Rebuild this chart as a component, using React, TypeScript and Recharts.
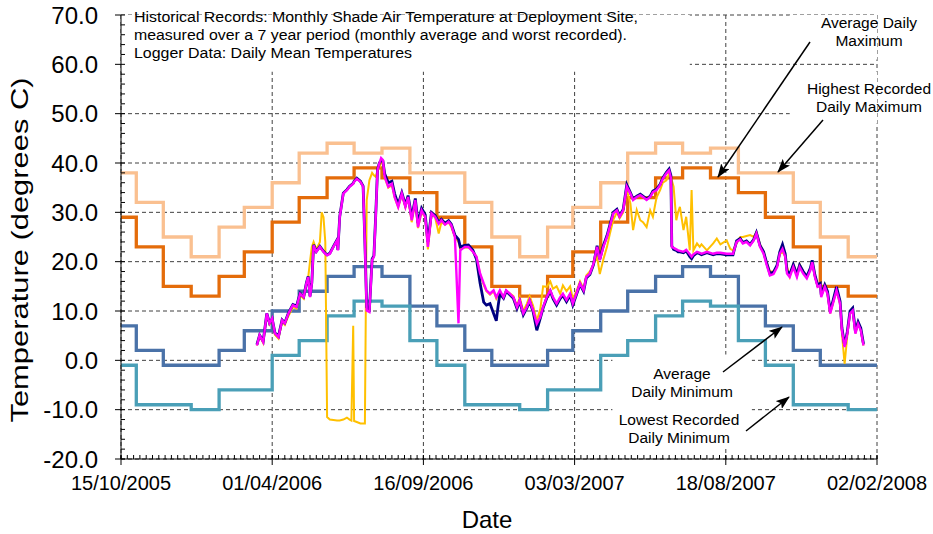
import React from "react";
import { CartesianGrid, Line, LineChart, ReferenceArea, XAxis, YAxis } from "recharts";

const FONT = '"Liberation Sans", Arial, Helvetica, sans-serif';

// x values are days counted from 15/10/2005 (left edge of the axis)
const START = Date.UTC(2005, 9, 15);
function dayOf(dmy: string) {
  const [d, m, y] = dmy.split("/").map(Number);
  return Math.round((Date.UTC(y, m - 1, d) - START) / 86400000);
}

const X_TICK_LABELS = ["15/10/2005", "01/04/2006", "16/09/2006", "03/03/2007", "18/08/2007", "02/02/2008"];
const X_MAJOR = X_TICK_LABELS.map(dayOf);
const X_MINOR = Array.from({ length: 121 }, (_, i) => i * 7);
const Y_MAJOR = [-20, -10, 0, 10, 20, 30, 40, 50, 60, 70];
const Y_MINOR = Array.from({ length: 46 }, (_, i) => -20 + i * 2);

// Historical records, Jan..Dec (degrees C)
const HIGHEST_MAX = [21, 27, 31, 36, 42, 44, 42, 43, 38, 38, 32, 25];
const AVERAGE_MAX = [13, 17, 22, 28, 33, 37, 39, 37, 34, 29, 23, 15];
const AVERAGE_MIN = [-1, 2, 6, 10, 14, 17, 19, 17, 11, 7, 2, -1];
const LOWEST_MIN = [-10, -6, -6, 1, 4, 9, 12, 11, 4, -1, -9, -9];

const MONTH_STARTS = [
  "15/10/2005", "01/11/2005", "01/12/2005", "01/01/2006", "01/02/2006", "01/03/2006",
  "01/04/2006", "01/05/2006", "01/06/2006", "01/07/2006", "01/08/2006", "01/09/2006",
  "01/10/2006", "01/11/2006", "01/12/2006", "01/01/2007", "01/02/2007", "01/03/2007",
  "01/04/2007", "01/05/2007", "01/06/2007", "01/07/2007", "01/08/2007", "01/09/2007",
  "01/10/2007", "01/11/2007", "01/12/2007", "01/01/2008",
];
const RECORDS_END = "02/02/2008";

// Logger data: daily mean temperatures
const LOGGER_DAYS = [
  151, 154, 158, 162, 165, 168, 171, 175, 179, 182,
  186, 191, 195, 199, 203, 206, 208, 210, 212, 214,
  217, 221, 223, 225, 227, 229, 232, 236, 240, 241,
  243, 247, 251, 254, 256, 258, 259, 262, 266, 269,
  271, 273, 276, 279, 281, 283, 285, 287, 289, 291,
  293, 297, 301, 304, 308, 312, 316, 319, 323, 327,
  330, 334, 338, 341, 345, 349, 353, 356, 360, 364,
  367, 371, 375, 377, 382, 386, 391, 395, 399, 403,
  406, 410, 414, 417, 419, 421, 425, 428, 432, 436,
  440, 443, 447, 451, 454, 458, 462, 466, 469, 473,
  477, 480, 484, 488, 491, 495, 499, 502, 506, 510,
  514, 517, 521, 525, 529, 532, 536, 540, 543, 547,
  551, 554, 558, 562, 566, 569, 573, 577, 580, 584,
  588, 591, 595, 599, 602, 606, 609, 611, 612, 614,
  617, 619, 621, 625, 628, 632, 634, 636, 640, 643,
  645, 651, 658, 662, 666, 673, 677, 680, 684, 688,
  691, 695, 699, 703, 706, 710, 714, 717, 721, 725,
  729, 732, 735, 738, 740, 743, 747, 751, 754, 758,
  762, 766, 768, 771, 774, 777, 778, 782, 785, 788,
  791, 795, 799, 801, 804, 807, 810, 813, 816, 819,
  822, 825,
];
const MAGENTA = [
  3.0, 5.1, 3.7, 9.5, 7.5, 8.5, 5.5, 4.7, 8.1, 7.5,
  9.5, 11.2, 10.8, 13.5, 12.8, 15.6, 16.9, 12.8, 15.6, 23.3,
  22.0, 23.0, 22.5, 22.0, 21.6, 21.3, 21.6, 23.0, 24.3, 22.3,
  29.0, 33.8, 34.5, 35.2, 35.5, 35.8, 36.2, 36.8, 36.2, 35.2,
  23.7, 10.1, 9.8, 20.3, 21.0, 29.0, 38.5, 39.9, 41.0, 40.6,
  37.2, 35.2, 35.8, 33.1, 31.1, 33.8, 31.1, 33.1, 28.4, 32.5,
  27.0, 30.4, 29.1, 23.0, 29.8, 29.1, 27.7, 28.4, 27.5, 28.1,
  27.4, 25.0, 7.5, 22.3, 23.0, 23.0, 22.0, 21.0, 17.6, 15.6,
  14.2, 13.5, 14.2, 12.8, 13.5, 14.2, 12.8, 14.2, 13.5, 12.8,
  10.8, 12.2, 9.5, 10.8, 12.2, 10.1, 7.4, 8.8, 10.8, 12.8,
  14.2, 12.8, 11.5, 12.8, 13.5, 12.2, 13.5, 11.5, 13.5, 15.6,
  14.2, 16.9, 17.6, 19.6, 23.0, 20.3, 23.0, 25.0, 27.0, 29.8,
  30.4, 29.1, 30.4, 35.2, 33.8, 32.5, 33.1, 33.5, 33.1, 32.5,
  33.1, 34.1, 34.5, 35.5, 36.8, 37.9, 38.5, 37.0, 23.0, 22.8,
  22.5, 22.3, 22.2, 22.0, 22.4, 21.5, 21.0, 21.5, 22.0, 21.8,
  21.6, 22.0, 21.6, 21.8, 21.8, 21.6, 21.6, 21.6, 24.0, 24.5,
  23.7, 24.0, 23.3, 24.3, 25.7, 23.0, 21.6, 19.6, 17.2, 17.5,
  18.9, 21.6, 22.6, 21.0, 17.6, 16.9, 18.9, 16.9, 18.9, 17.6,
  16.6, 18.3, 19.9, 16.9, 14.9, 15.2, 12.8, 14.9, 13.5, 9.5,
  11.5, 14.2, 11.5, 6.1, 2.7, 5.4, 9.5, 10.1, 5.4, 7.4,
  6.1, 3.0,
];
const NAVY = [
  3.2, 5.1, 3.9, 9.5, 7.6, 8.4, 5.6, 4.9, 8.2, 7.6,
  9.6, 11.3, 11.0, 13.6, 12.9, 15.7, 17.0, 13.0, 15.7, 23.4,
  22.1, 23.1, 22.6, 22.1, 21.7, 21.4, 21.7, 23.1, 24.4, 22.4,
  29.1, 33.9, 34.6, 35.3, 35.6, 35.9, 36.3, 36.9, 36.3, 35.3,
  24.0, 10.8, 10.3, 20.5, 21.2, 29.3, 38.6, 40.0, 40.5, 40.4,
  37.8, 36.0, 36.3, 33.8, 31.6, 34.0, 31.5, 33.4, 29.0, 32.8,
  27.8, 30.8, 29.5, 24.0, 30.0, 29.4, 28.0, 28.6, 27.8, 28.3,
  27.6, 25.4, 24.5, 23.0, 23.3, 23.4, 22.3, 20.5, 15.6, 11.8,
  11.2, 11.5, 9.5, 8.0, 11.0, 13.5, 12.6, 14.0, 13.3, 12.6,
  10.5, 12.0, 9.2, 10.6, 12.0, 9.8, 6.1, 8.6, 10.6, 12.6,
  14.0, 12.5, 11.2, 12.5, 13.2, 11.9, 13.2, 11.2, 13.3, 15.4,
  14.0, 16.7, 17.4, 19.4, 23.2, 20.5, 23.3, 25.3, 27.3, 30.0,
  30.6, 29.3, 30.6, 35.6, 34.0, 32.7, 33.3, 33.7, 33.3, 32.7,
  33.3, 34.3, 34.7, 35.7, 37.0, 38.1, 38.8, 37.5, 23.2, 22.5,
  22.3, 22.0, 22.0, 21.8, 22.2, 21.0, 20.6, 21.2, 21.8, 21.6,
  21.4, 21.8, 21.4, 21.6, 21.6, 21.4, 21.4, 21.4, 24.2, 24.7,
  23.9, 24.2, 23.5, 24.5, 25.9, 23.3, 22.0, 20.0, 17.6, 17.9,
  19.3, 22.0, 23.5, 21.6, 18.2, 17.4, 19.4, 17.4, 19.3, 18.0,
  17.0, 18.7, 20.3, 17.3, 15.3, 15.6, 13.3, 15.3, 14.0, 10.0,
  12.0, 14.9, 12.0, 6.6, 3.0, 5.8, 10.0, 10.6, 5.9, 7.8,
  6.5, 3.3,
];
const YELLOW = [
  3.0, 5.0, 3.5, 9.3, 7.3, 8.2, 5.2, 4.4, 7.8, 7.2,
  9.0, 10.8, 10.5, 13.2, 12.5, 15.4, 16.8, 20.0, 23.0, 24.0,
  22.5, 24.0, 30.0, 29.0, 24.0, -11.5, -12.0, -12.1, -12.2, -12.2,
  -12.2, -12.0, -11.6, -12.0, -12.2, 7.0, -12.3, -12.5, -12.8, -12.8,
  -12.8, 32.5, 36.5, 38.0, 37.5, 37.2, 38.5, 39.0, 40.0, 40.0,
  37.0, 35.0, 35.5, 33.0, 31.0, 33.5, 31.0, 33.0, 28.0, 32.0,
  26.8, 30.0, 29.0, 22.5, 29.5, 29.0, 25.7, 28.0, 27.5, 28.0,
  27.0, 25.0, 24.0, 22.5, 23.0, 23.0, 22.0, 21.0, 17.5, 15.3,
  14.0, 13.3, 14.0, 12.5, 13.3, 14.0, 12.7, 14.0, 13.6, 13.0,
  11.0, 12.8, 10.0, 11.5, 13.0, 11.0, 8.0, 10.5, 15.0, 14.9,
  16.0, 14.5, 15.0, 13.5, 15.2, 14.0, 15.0, 12.5, 14.0, 16.0,
  14.5, 17.2, 18.0, 19.5, 21.0, 17.5, 20.5, 23.0, 25.5, 28.5,
  30.0, 28.8, 30.0, 34.5, 31.8, 26.4, 30.5, 28.4, 28.0, 27.0,
  30.4, 29.1, 33.0, 34.5, 36.0, 36.5, 37.9, 37.0, 36.5, 35.2,
  28.4, 30.0, 31.1, 26.4, 29.1, 22.3, 34.5, 22.3, 23.7, 23.0,
  23.5, 22.3, 23.7, 24.7, 23.5, 24.3, 22.6, 22.3, 23.7, 25.0,
  25.0, 25.2, 25.4, 25.0, 26.0, 23.5, 22.0, 20.0, 18.0, 18.0,
  19.0, 21.5, 22.0, 21.0, 19.0, 17.0, 19.5, 17.5, 19.5, 18.0,
  17.0, 18.5, 20.0, 17.0, 15.0, 15.5, 13.0, 15.0, 13.5, 9.5,
  11.5, 14.0, 11.5, 5.5, -0.7, 5.0, 9.5, 10.0, 5.5, 7.4,
  6.1, 3.0,
];

const recordRows = MONTH_STARTS.map((s) => {
  const m = Number(s.split("/")[1]) - 1;
  return { day: dayOf(s), hiMax: HIGHEST_MAX[m], avgMax: AVERAGE_MAX[m], avgMin: AVERAGE_MIN[m], loMin: LOWEST_MIN[m] };
});
recordRows.push({ ...recordRows[recordRows.length - 1], day: dayOf(RECORDS_END) });

const loggerRows = LOGGER_DAYS.map((day, i) => ({ day, navy: NAVY[i], yellow: YELLOW[i], magenta: MAGENTA[i] }));

// white text-box backgrounds that hide the grid (data coordinates)
const BLANKS = [
  { x1: 0, x2: 632, y1: 58.5, y2: 70 },
  { x1: 743, x2: 840, y1: 61, y2: 70 },
  { x1: 743, x2: 840, y1: 48, y2: 58.5 },
  { x1: 546, x2: 701, y1: -17.6, y2: 1.2 },
];

function XTick({ x, y, payload }: any) {
  const i = X_MAJOR.indexOf(payload.value);
  return (
    <g>
      <line x1={x} x2={x} y1={y} y2={y - 4} stroke="#000" />
      {i >= 0 && (
        <>
          <line x1={x} x2={x} y1={y - 4} y2={y + 6} stroke="#000" />
          <text x={x} y={y + 31} textAnchor="middle" fontSize={20} fontFamily={FONT} fill="#000">
            {X_TICK_LABELS[i]}
          </text>
        </>
      )}
    </g>
  );
}

function YTick({ x, y, payload }: any) {
  const major = Y_MAJOR.includes(payload.value);
  return (
    <g>
      <line x1={x} x2={x + 4} y1={y} y2={y} stroke="#000" />
      {major && (
        <>
          <line x1={x - 6} x2={x} y1={y} y2={y} stroke="#000" />
          <text x={x - 23} y={y + 8.5} textAnchor="end" fontSize={24} fontFamily={FONT} fill="#000">
            {payload.value.toFixed(1)}
          </text>
        </>
      )}
    </g>
  );
}

function Arrow({ x1, y1, x2, y2 }: { x1: number; y1: number; x2: number; y2: number }) {
  return <line x1={x1} y1={y1} x2={x2} y2={y2} stroke="#000" strokeWidth={1.5} markerEnd="url(#head)" />;
}

export default function App() {
  const t = { fontFamily: FONT, fontSize: 15.5, fill: "#000" };
  return (
    <div style={{ position: "absolute", left: 0, top: 0, width: 933, height: 534, background: "#fff" }}>
      <LineChart width={933} height={534} margin={{ top: 15, right: 56, bottom: 0, left: 0 }}>
        <CartesianGrid stroke="#404040" strokeDasharray="4 3" horizontalValues={Y_MAJOR} verticalValues={X_MAJOR} />
        {BLANKS.map((b, i) => (
          <ReferenceArea key={i} {...b} fill="#fff" fillOpacity={1} stroke="none" ifOverflow="hidden" />
        ))}
        <XAxis
          type="number"
          dataKey="day"
          domain={[0, 840]}
          ticks={X_MINOR}
          interval={0}
          height={75}
          tickSize={0}
          tickMargin={0}
          tickLine={false}
          axisLine={{ stroke: "#000" }}
          tick={XTick}
        />
        <YAxis
          type="number"
          domain={[-20, 70]}
          ticks={Y_MINOR}
          interval={0}
          width={121}
          tickSize={0}
          tickMargin={0}
          tickLine={false}
          axisLine={{ stroke: "#000" }}
          tick={YTick}
        />
        <Line data={recordRows} dataKey="hiMax" type="stepAfter" stroke="#FAC090" strokeWidth={3.3} dot={false} isAnimationActive={false} />
        <Line data={recordRows} dataKey="avgMax" type="stepAfter" stroke="#E46C0A" strokeWidth={3.3} dot={false} isAnimationActive={false} />
        <Line data={recordRows} dataKey="avgMin" type="stepAfter" stroke="#4A72A8" strokeWidth={3.3} dot={false} isAnimationActive={false} />
        <Line data={recordRows} dataKey="loMin" type="stepAfter" stroke="#4A9FB7" strokeWidth={3.3} dot={false} isAnimationActive={false} />
        <Line data={loggerRows} dataKey="yellow" stroke="#FFC000" strokeWidth={2} dot={false} isAnimationActive={false} />
        <Line data={loggerRows} dataKey="navy" stroke="#000080" strokeWidth={2.8} dot={false} isAnimationActive={false} />
        <Line data={loggerRows} dataKey="magenta" stroke="#FF00FF" strokeWidth={2.4} dot={false} isAnimationActive={false} />
      </LineChart>

      <svg width={933} height={534} style={{ position: "absolute", left: 0, top: 0, pointerEvents: "none" }}>
        <defs>
          <marker id="head" markerUnits="userSpaceOnUse" markerWidth={14} markerHeight={10} refX={13} refY={5} orient="auto">
            <path d="M0,0 L14,5 L0,10 L3,5 Z" fill="#000" />
          </marker>
        </defs>
        <text transform="translate(28,250) rotate(-90)" textAnchor="middle" fontSize={24} fontFamily={FONT} textLength={345} lengthAdjust="spacingAndGlyphs">
          Temperature (degrees C)
        </text>
        <text x={487} y={528} textAnchor="middle" fontSize={24} fontFamily={FONT}>
          Date
        </text>

        <text {...t} x={134} y={22} textLength={504} lengthAdjust="spacingAndGlyphs">
          Historical Records: Monthly Shade Air Temperature at Deployment Site,
        </text>
        <text {...t} x={134} y={40} textLength={493} lengthAdjust="spacingAndGlyphs">
          measured over a 7 year period (monthly average and worst recorded).
        </text>
        <text {...t} x={134} y={58} textLength={278} lengthAdjust="spacingAndGlyphs">
          Logger Data: Daily Mean Temperatures
        </text>

        <text {...t} x={869} y={28} textAnchor="middle">Average Daily</text>
        <text {...t} x={869} y={46} textAnchor="middle">Maximum</text>
        <text {...t} x={869} y={94} textAnchor="middle">Highest Recorded</text>
        <text {...t} x={869} y={112} textAnchor="middle">Daily Maximum</text>
        <text {...t} x={682} y={379} textAnchor="middle">Average</text>
        <text {...t} x={682} y={397} textAnchor="middle">Daily Minimum</text>
        <text {...t} x={679} y={425} textAnchor="middle">Lowest Recorded</text>
        <text {...t} x={679} y={443} textAnchor="middle">Daily Minimum</text>

        <Arrow x1={810} y1={42} x2={718} y2={177} />
        <Arrow x1={823} y1={120} x2={778} y2={172} />
        <Arrow x1={723} y1={372} x2={782} y2={327} />
        <Arrow x1={746} y1={431} x2={789} y2={397} />
      </svg>
    </div>
  );
}
